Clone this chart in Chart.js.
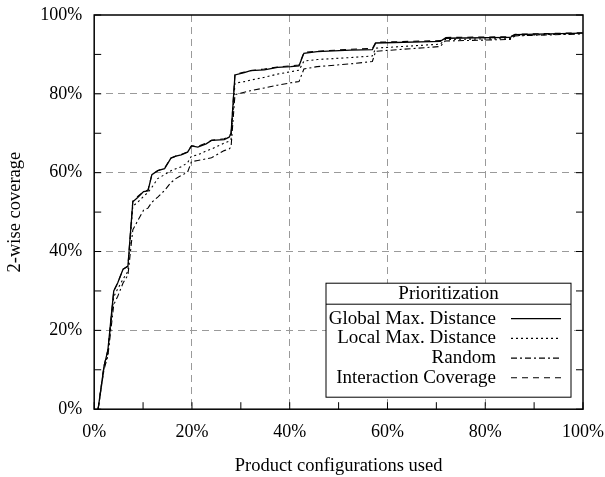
<!DOCTYPE html>
<html>
<head>
<meta charset="utf-8">
<script src="https://cdn.jsdelivr.net/npm/chart.js@4/dist/chart.umd.min.js"></script>
<style>
  html, body { margin: 0; padding: 0; background: #fff; }
  #wrap { width: 605px; height: 477px; }
</style>
</head>
<body>
<div id="wrap"><canvas id="coverageChart"></canvas></div>
<script>
// share of product configurations used (%)
const configsUsed = [0.8, 2.0, 2.8, 4.0, 4.8, 5.9, 6.9, 7.9, 8.9, 10.1, 11.0, 11.8, 13.0, 14.4, 15.7, 16.7, 17.8, 19.1, 19.9, 21.2, 22.9, 24.0, 26.6, 27.6, 28.0, 28.8, 30.7, 32.0, 34.8, 37.5, 40.2, 41.9, 42.9, 45.6, 52.4, 56.9, 57.6, 70.8, 71.8, 85.1, 86.1, 100];

// 2-wise coverage (%) per prioritization
const globalMaxDistance = [0, 10.8, 15.0, 30.0, 32.0, 35.5, 36.3, 52.6, 53.7, 55.2, 55.4, 59.5, 60.5, 61.0, 63.7, 64.2, 64.5, 65.2, 66.8, 66.5, 67.3, 68.2, 68.4, 69.0, 69.9, 84.8, 85.4, 85.9, 86.1, 86.7, 86.9, 87.1, 90.3, 90.7, 91.1, 91.2, 92.9, 93.3, 94.1, 94.3, 95.0, 95.4];
const localMaxDistance = [0, 10.5, 14.0, 28.5, 30.5, 33.0, 35.0, 51.5, 52.5, 54.0, 55.0, 56.3, 58.5, 59.5, 60.5, 61.0, 61.5, 62.5, 64.2, 64.5, 65.5, 66.0, 67.5, 68.0, 68.5, 82.7, 83.1, 83.5, 84.2, 85.0, 85.6, 86.0, 88.3, 88.7, 89.2, 89.6, 91.6, 92.6, 93.8, 94.0, 94.8, 95.3];
const randomOrder = [0, 10.0, 13.5, 26.5, 28.6, 32.0, 34.0, 45.5, 47.8, 50.5, 51.0, 52.5, 53.8, 55.5, 57.5, 58.5, 59.3, 60.1, 62.8, 63.1, 63.5, 63.8, 65.6, 66.0, 66.5, 79.8, 80.4, 80.8, 81.5, 82.2, 82.8, 83.1, 86.3, 86.9, 87.6, 88.2, 90.8, 92.0, 93.4, 93.8, 94.7, 95.2];
const interactionCoverage = [0, 11.0, 15.0, 30.0, 32.0, 35.5, 36.3, 52.8, 54.0, 55.2, 55.6, 59.5, 60.5, 61.2, 63.7, 64.2, 64.6, 65.3, 66.8, 66.7, 67.5, 68.2, 68.6, 69.2, 70.0, 85.0, 85.5, 85.9, 86.3, 86.8, 87.1, 87.3, 90.5, 90.8, 91.3, 91.5, 93.1, 93.5, 94.3, 94.5, 95.1, 95.5];

const serif = '"Liberation Serif", "DejaVu Serif", serif';

function pts(ys) {
  return configsUsed.map((x, i) => ({ x: x, y: ys[i] }));
}

// gnuplot-like frame with inward ticks on left, right and bottom
const frameTicks = {
  id: 'frameTicks',
  afterDatasetsDraw(chart) {
    const { ctx, chartArea: a, scales } = chart;
    ctx.save();
    ctx.strokeStyle = '#000';
    ctx.lineWidth = 1;
    ctx.setLineDash([]);
    ctx.beginPath();
    scales.x.ticks.forEach(t => {
      const px = scales.x.getPixelForValue(t.value);
      ctx.moveTo(px, a.bottom);
      ctx.lineTo(px, a.bottom - 7);
    });
    scales.y.ticks.forEach(t => {
      const py = scales.y.getPixelForValue(t.value);
      ctx.moveTo(a.left, py);
      ctx.lineTo(a.left + 7, py);
      ctx.moveTo(a.right, py);
      ctx.lineTo(a.right - 7, py);
    });
    ctx.stroke();
    ctx.lineWidth = 1.5;
    ctx.strokeRect(a.left, a.top, a.width, a.height);
    ctx.restore();
  }
};

// boxed legend with title, labels right-aligned and line sample after
const boxLegend = {
  id: 'boxLegend',
  afterDraw(chart) {
    const { ctx, chartArea: a } = chart;
    const w = 245, h = 114;
    const right = a.right - 12, bottom = a.bottom - 12;
    const left = right - w, top = bottom - h;
    ctx.save();
    ctx.fillStyle = '#fff';
    ctx.fillRect(left, top, w, h);
    ctx.strokeStyle = '#000';
    ctx.lineWidth = 1;
    ctx.strokeRect(left, top, w, h);
    ctx.beginPath();
    ctx.moveTo(left, top + 21);
    ctx.lineTo(right, top + 21);
    ctx.stroke();
    ctx.font = '19px ' + serif;
    ctx.fillStyle = '#000';
    ctx.textBaseline = 'middle';
    ctx.textAlign = 'center';
    ctx.fillText('Prioritization', (left + right) / 2, top + 11);
    chart.data.datasets.forEach((ds, i) => {
      const cy = top + 35.5 + i * 19.7;
      ctx.textAlign = 'right';
      ctx.fillText(ds.label, left + 170, cy);
      ctx.setLineDash(ds.borderDash || []);
      ctx.lineWidth = ds.borderWidth;
      ctx.beginPath();
      ctx.moveTo(left + 185, cy);
      ctx.lineTo(left + 235, cy);
      ctx.stroke();
      ctx.setLineDash([]);
    });
    ctx.restore();
  }
};

const gridColor = c => (c.tick.value % 20 === 0 && c.tick.value > 0 && c.tick.value < 100) ? '#9a9a9a' : 'rgba(0,0,0,0)';

const ctx = document.getElementById('coverageChart').getContext('2d');
const chart = new Chart(ctx, {
  type: 'line',
  data: {
    datasets: [
      { label: 'Global Max. Distance', data: pts(globalMaxDistance), borderColor: '#000', borderWidth: 1.3, borderDash: [] },
      { label: 'Local Max. Distance', data: pts(localMaxDistance), borderColor: '#000', borderWidth: 1.1, borderDash: [2, 3] },
      { label: 'Random', data: pts(randomOrder), borderColor: '#000', borderWidth: 1.1, borderDash: [6, 3, 2, 3] },
      { label: 'Interaction Coverage', data: pts(interactionCoverage), borderColor: '#000', borderWidth: 1.1, borderDash: [6, 5] }
    ]
  },
  options: {
    responsive: true,
    maintainAspectRatio: false,
    animation: false,
    elements: { point: { radius: 0 }, line: { tension: 0, fill: false } },
    layout: { padding: { left: 4, right: 22, top: 15, bottom: 0 } },
    plugins: { legend: { display: false }, tooltip: { enabled: false } },
    scales: {
      x: {
        type: 'linear', min: 0, max: 100,
        afterFit: s => { s.paddingRight = 10; },
        grid: { color: gridColor, drawTicks: false, lineWidth: 1 },
        border: { display: false, dash: [7, 5] },
        ticks: {
          stepSize: 10, autoSkip: false, maxRotation: 0, padding: 12, color: '#000',
          font: { family: serif, size: 18 },
          callback: v => v % 20 === 0 ? v + '%' : ''
        },
        title: { display: true, text: 'Product configurations used', color: '#000', font: { family: serif, size: 18.5 }, padding: { top: 0, bottom: 0 } }
      },
      y: {
        min: 0, max: 100,
        afterFit: s => { s.paddingTop = 5; },
        grid: { color: gridColor, drawTicks: false, lineWidth: 1 },
        border: { display: false, dash: [7, 5] },
        ticks: {
          stepSize: 10, autoSkip: false, padding: 12, color: '#000',
          font: { family: serif, size: 18 },
          callback: v => v % 20 === 0 ? v + '%' : ''
        },
        title: { display: true, text: '2-wise coverage', color: '#000', font: { family: serif, size: 18.5 }, padding: { top: 0, bottom: 2 } }
      }
    }
  },
  plugins: [frameTicks, boxLegend]
});
</script>
</body>
</html>
